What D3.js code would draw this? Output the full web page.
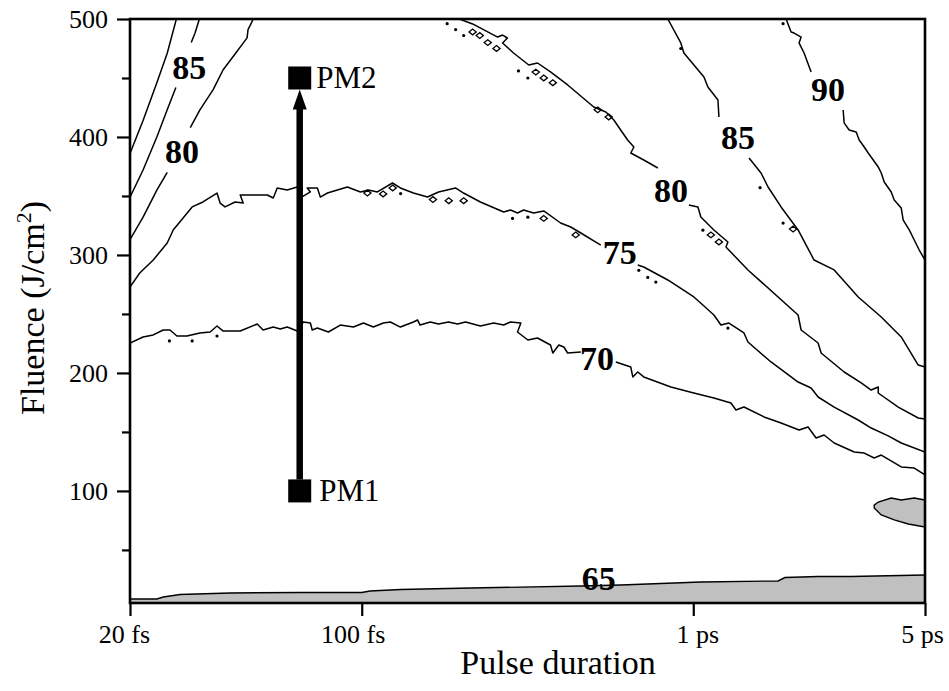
<!DOCTYPE html>
<html><head><meta charset="utf-8">
<script src="https://cdn.jsdelivr.net/npm/d3@7/dist/d3.min.js"></script>
<style>
html,body{margin:0;padding:0;background:#fff;}
svg{display:block;font-family:"Liberation Serif","Times New Roman",serif;}
</style></head><body>
<svg id="chart" width="949" height="691"></svg>
<script>
// ---------------- DATA (pulse duration in fs, fluence in J/cm^2) ----------------
const xTickValues = [20, 100, 1000, 5000];
const xTickLabels = ["20 fs", "100 fs", "1 ps", "5 ps"];
const yTickValues = [100, 200, 300, 400, 500];
const yMinorTicks = [50, 150, 250, 350, 450];

// contour 90 (left corner, unlabeled)
const c90Left = [[20,386],[21.9,414],[24.1,446],[25.9,471],[27.6,500]];
// contour 85 (left corner)
const c85LeftA = [[20,349],[21.9,372],[24.1,400],[25.9,423],[27.5,442]];
const c85LeftB = [[30.6,480],[31.4,488],[32.3,499],[32.4,500]];
// contour 80 (left corner)
const c80LeftA = [[20,313],[21.9,332],[24.1,355],[25.9,370]];
const c80LeftB = [[30.4,408],[32.5,423],[35.6,440],[38.2,457],[40.9,468],[45.1,484],[45.4,491],[47.1,500]];
// contour 75
const c75A = [[20,272.8],[21.4,284.7],[23.5,295.7],[25.9,310.1],[27.0,321.2],[30.8,340.7],[33.2,344.9],
  [36.6,352.5],[37.4,344.0],[38.7,340.7],[41.5,344.9],[43.9,344.0],[43.0,350.8],[51.9,350.8],[54.1,348.3],
  [55.6,356.8],[59.6,355.1],[63.9,357.6],[65.3,348.3],[70.0,353.4],[68.5,356.8],[73.5,356.8],[75.0,349.1],
  [78.8,352.5],[90.5,357.6],[99.1,353.4],[104.7,355.1],[111.5,353.4],[123.8,361.0],[130.8,356.8],[143.2,352.5],
  [157.9,349.1],[170.5,353.4],[191.8,356.8],[202.8,352.5],[228,344.9],[268,336.4],[281,338.1],[295,335.6],
  [308,338.1],[330,335.6],[354,337.3],[398,327.1],[427,323.7],[458,318.6],[526,308.4]];
const c75B = [[680,291.5],[709,289.8],[838,278.8],[1004,264.4],[1069,257.6],[1154,249.1],[1212,240.6],
  [1281,242.3],[1422,233.9],[1462,226.2],[1716,209.3],[1973,196.6],[2071,192.3],[2267,187.2],[2380,179.6],
  [2661,171.1],[3144,160.1],[3441,153.3],[3873,146.6],[4239,140.6],[5000,133]];
// contour 70
const c70A = [[20,225.4],[21.9,230.5],[23.5,232.2],[25.2,236.4],[26.4,236.4],[27.7,231.3],[29.7,231.3],
  [32.5,233.9],[34.9,234.7],[36.6,239.8],[38.2,235.5],[43.0,235.5],[48.4,241.5],[50.4,236.4],[54.1,238.9],
  [56.8,237.2],[59.6,238.9],[63.9,235.5],[66.6,243.2],[70.0,242.3],[70.9,236.4],[73.5,238.1],[79.3,234.7],
  [86.2,240.6],[94.4,238.9],[101.2,242.3],[108.4,238.9],[116.2,242.3],[122,243.2],[130.8,238.9],[143.2,243.2],
  [147.3,244.9],[150,240.6],[161,243.2],[170.5,241.5],[182.7,243.2],[194.5,241.5],[205.6,243.2],[228,239.8],
  [250,242.3],[268,240.6],[281,243.2],[302,242.3],[295,234.7],[317,227.9],[339,229.6],[371,223.7],[377,216.9],
  [393,223.7],[407,222],[418,216.9],[458,217.8]];
const c70B = [[584,209.3],[648,205],[657,196.6],[680,200.8],[709,196.6],[856,188.1],[1004,183],[1154,178.8],
  [1299,174.5],[1345,168.6],[1422,171.1],[1635,162.7],[1840,157.6],[2085,151.6],[2220,154.2],[2347,144.9],
  [2481,147.4],[2661,140.6],[3058,133],[3278,132.1],[3514,127.9],[3690,130.4],[4239,120.3],[4640,119.4],[5000,113.5]];
// contour 80 (main)
const c80A = [[197,500],[216,495.8],[257,484.7],[266,486.4],[275,483.9],[266,479.7],[287,471.2],[319,461],
  [339,462.7],[371,455.1],[418,444.1],[501,425.4],[545,421.2],[576,414.4],[604,405.9],[634,397.4],[662,391.5],
  [648,386.4],[709,380.5],[782,373.7]];
const c80B = [[970,342.3],[1033,340.7],[1054,332.2],[1154,321.2],[1272,311],[1255,306.7],[1462,287.3],
  [2071,249.1],[2115,236.4],[2380,225.4],[2430,216.9],[2852,200.8],[3210,191.5],[3441,185.5],[3613,188.1],
  [3613,183],[4152,171.1],[4771,161.8],[5000,160.9]];
// contour 85 (main)
const c85A = [[838,500],[917,479.7],[937,471.2],[1077,450.8],[1107,442.4],[1187,431.3],[1195,416.9]];
const c85B = [[1473,382.2],[1601,369.5],[1681,357.6],[1840,340.7],[2071,321.2],[2314,295.7],[2661,287.3],
  [3144,264.4],[3690,247.4],[4239,230.5],[4771,206.7],[5000,205]];
// contour 90 (main)
const c90A = [[1905,500],[1973,489],[2014,488.1],[2115,484.7],[2085,479.7],[2159,471.2],[2267,455.1]];
const c90B = [[2832,422.9],[2852,411.9],[2953,405.9],[3100,404.2],[3166,397.4],[3278,391.5],[3371,386.4],
  [3613,374.6],[3690,369.5],[3767,361.8],[3955,353.4],[4038,346.6],[4239,339.8],[4298,329.6],[4482,321.2],
  [4640,312.7],[4804,304.2],[5000,295.7]];
// contour 65 (shaded regions below 65)
const band65 = [[20,8.4],[24.1,8.4],[25.2,10.1],[28.3,12.2],[40.1,13.5],[65.3,13.9],[100,13.9],[106,15.2],
  [131,16.5],[213,17.7],[458,19.4],[604,20.3],[1054,22.8],[1802,23.7],[1890,26.6],[2380,27.5],[2990,27.5],[5000,28.7]];
const blob65 = [[5000,92.3],[4640,94],[4239,92.3],[3955,94],[3613,90.6],[3514,88],[3514,85.5],[3690,79.6],
  [4038,75.4],[4451,72],[5000,69.4]];

// small closed islands of the contour plot
const dotSpecks = [[26.3,227.1],[30.8,227.1],[36.6,231.3],[181,496],[192,491],[203,486],[297,456],[317,450],
  [285,331],[317,332],[131,352],[685,287],[729,281],[771,277],[1272,238],[1069,321],[917,475],[1590,357],
  [1866,327],[1866,496]];
const diamondSpecks = [[216,489],[227,486],[240,480],[255,475],[335,455],[354,450],[377,446],[515,423],[556,417],
  [354,331],[442,317],[1130,317],[1195,311],[2000,322],[104,352.5],[116,351.7],[124,356.8],[164,347],[183,346],[203,346]];

// contour labels
const labelText    = ["85", "80", "90", "85", "80", "75", "70", "65"];
const labelPulse   = [30.2, 28.7, 2551, 1364, 856, 600, 512, 519];
const labelFluence = [459, 388, 440, 400, 355, 302, 212.7, 26];

// process markers
const pmNames   = ["PM1", "PM2"];
const pmPulse   = [65, 65];
const pmFluence = [100, 450];

// ---------------- DRAWING ----------------
const svg = d3.select("#chart");
const m = {left:130, right:925, top:19, bottom:603};
const x = d3.scaleLog().domain([20, 5000]).range([m.left, m.right]);
const y = d3.scaleLinear().domain([5, 500]).range([m.bottom, m.top]);
const FONT = '"Liberation Serif","Times New Roman",serif';

svg.append("defs").append("clipPath").attr("id","clip")
  .append("rect").attr("x",m.left).attr("y",m.top).attr("width",m.right-m.left).attr("height",m.bottom-m.top);

const plot = svg.append("g").attr("clip-path","url(#clip)");
const line = d3.line().x(d=>x(d[0])).y(d=>y(d[1]));
const area = d3.area().x(d=>x(d[0])).y0(y(5)).y1(d=>y(d[1]));

// shaded regions
plot.append("path").attr("d", area(band65)).attr("fill","#c0c0c0");
plot.append("path").attr("d", line(band65)).attr("fill","none").attr("stroke","#000").attr("stroke-width",1.4);
plot.append("path").attr("d", line(blob65)+"Z").attr("fill","#c0c0c0").attr("stroke","#000").attr("stroke-width",1.4);

// contour lines
const segments = [c90Left, c85LeftA, c85LeftB, c80LeftA, c80LeftB, c75A, c75B, c70A, c70B,
                  c80A, c80B, c85A, c85B, c90A, c90B];
plot.selectAll("path.contour").data(segments).enter().append("path")
  .attr("class","contour").attr("d", line)
  .attr("fill","none").attr("stroke","#000").attr("stroke-width",1.5).attr("stroke-linejoin","round");

// specks
plot.selectAll("circle.speck").data(dotSpecks).enter().append("circle")
  .attr("cx", d=>x(d[0])).attr("cy", d=>y(d[1])).attr("r",1.6).attr("fill","#000");
plot.selectAll("path.dia").data(diamondSpecks).enter().append("path")
  .attr("d", d=>{const cx=x(d[0]), cy=y(d[1]), r=3.6; return `M${cx-r},${cy}L${cx},${cy-r*0.8}L${cx+r},${cy}L${cx},${cy+r*0.8}Z`;})
  .attr("fill","none").attr("stroke","#000").attr("stroke-width",1.3);

// contour labels
svg.selectAll("text.clab").data(labelText).enter().append("text")
  .attr("x",(d,i)=>x(labelPulse[i])).attr("y",(d,i)=>y(labelFluence[i]))
  .attr("dy","0.34em").attr("text-anchor","middle")
  .attr("font-family",FONT).attr("font-weight","bold").attr("font-size",34).attr("fill","#000")
  .text(d=>d);

// arrow PM1 -> PM2
const sq = 23;
const ax = x(pmPulse[0]);
const yStart = y(pmFluence[0]) - sq/2;
const yTip = y(pmFluence[1]) + sq/2;
const headLen = 20, headHalf = 7;
svg.append("line").attr("x1",ax).attr("x2",ax).attr("y1",yStart).attr("y2",yTip+headLen-1)
  .attr("stroke","#000").attr("stroke-width",6.5);
svg.append("path").attr("d",`M${ax},${yTip}L${ax-headHalf},${yTip+headLen}L${ax+headHalf},${yTip+headLen}Z`).attr("fill","#000");

// PM squares and labels
svg.selectAll("rect.pm").data(pmNames).enter().append("rect")
  .attr("x",(d,i)=>x(pmPulse[i])-sq/2).attr("y",(d,i)=>y(pmFluence[i])-sq/2)
  .attr("width",sq).attr("height",sq).attr("fill","#000");
svg.selectAll("text.pm").data(pmNames).enter().append("text")
  .attr("x",(d,i)=>x(pmPulse[i])+sq/2+(i===0?8:5)).attr("y",(d,i)=>y(pmFluence[i])+10)
  .attr("font-family",FONT).attr("font-size",31).attr("fill","#000").text(d=>d);

// axes
const xLabelShift = [-6, -9, 4, -3];
const gx = svg.append("g").attr("transform",`translate(0,${m.bottom})`)
  .call(d3.axisBottom(x).tickValues(xTickValues).tickFormat((d,i)=>xTickLabels[i]).tickSize(13).tickPadding(9));
gx.select(".domain").remove();
gx.selectAll(".tick line").attr("stroke","#000").attr("stroke-width",2.2);
gx.selectAll(".tick text").attr("font-family",FONT).attr("font-size",26).attr("fill","#000")
  .attr("dx",(d,i)=>xLabelShift[i]);

const gy = svg.append("g").attr("transform",`translate(${m.left},0)`)
  .call(d3.axisLeft(y).tickValues(yTickValues).tickFormat(d3.format("d")).tickSize(13).tickPadding(9));
gy.select(".domain").remove();
gy.selectAll(".tick line").attr("stroke","#000").attr("stroke-width",2.2);
gy.selectAll(".tick text").attr("font-family",FONT).attr("font-size",26).attr("fill","#000");

const gy2 = svg.append("g").attr("transform",`translate(${m.left},0)`)
  .call(d3.axisLeft(y).tickValues(yMinorTicks).tickFormat("").tickSize(8));
gy2.select(".domain").remove();
gy2.selectAll(".tick line").attr("stroke","#000").attr("stroke-width",2.2);

// frame
svg.append("rect").attr("x",m.left).attr("y",m.top).attr("width",m.right-m.left).attr("height",m.bottom-m.top)
  .attr("fill","none").attr("stroke","#000").attr("stroke-width",2.6);

// axis titles
svg.append("text").attr("x",558).attr("y",674).attr("text-anchor","middle")
  .attr("font-family",FONT).attr("font-size",34).attr("fill","#000").text("Pulse duration");
const yt = svg.append("text").attr("transform","translate(44,308) rotate(-90)").attr("text-anchor","middle")
  .attr("font-family",FONT).attr("font-size",34).attr("fill","#000");
yt.append("tspan").text("Fluence (J/cm");
yt.append("tspan").attr("font-size",22).attr("dy",-13).text("2");
yt.append("tspan").attr("dy",13).text(")");
</script>
</body></html>
